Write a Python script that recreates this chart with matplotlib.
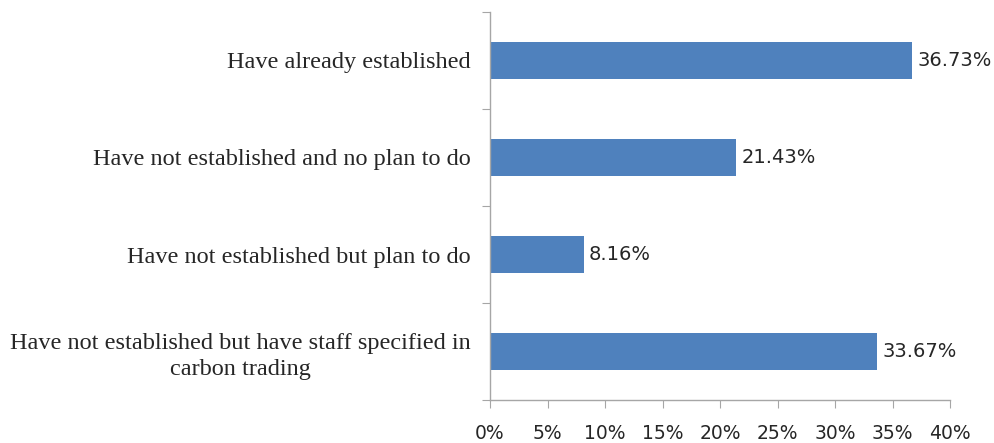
import matplotlib.pyplot as plt
import matplotlib.ticker as mticker
import numpy as np

# survey responses, listed top to bottom
categories = [
    "Have already established",
    "Have not established and no plan to do",
    "Have not established but plan to do",
    "Have not established but have staff specified in\ncarbon trading",
]
shares = [36.73, 21.43, 8.16, 33.67]
x_ticks = [0, 5, 10, 15, 20, 25, 30, 35, 40]

C_BAR = "#4f81bd"
C_AXIS = "#a6a6a6"
C_TEXT = "#262626"

fig = plt.figure(figsize=(9.95, 4.43), dpi=100)
ax = fig.add_axes([0.4925, 0.097, 0.4623, 0.876])

y = np.arange(len(categories))
ax.barh(y, shares, height=0.39, color=C_BAR, zorder=2)
ax.set_ylim(len(categories) - 0.5, -0.5)
ax.set_xlim(0, 40)

for yi, v in zip(y, shares):
    ax.text(v + 0.45, yi, f"{v:.2f}%", va="center", ha="left",
            fontsize=14, color=C_TEXT, family="DejaVu Sans")

# x axis: percentage ticks
ax.set_xticks(x_ticks)
ax.xaxis.set_major_formatter(mticker.FuncFormatter(lambda v, _: f"{v:g}%"))
ax.tick_params(axis="x", direction="out", length=6, color=C_AXIS,
               labelsize=13.5, labelcolor=C_TEXT, pad=11)

# y axis: tick marks sit between categories, labels at the bar centres
ax.set_yticks(np.arange(len(categories) + 1) - 0.5)
ax.set_yticklabels([])
ax.set_yticks(y, minor=True)
ax.set_yticklabels(categories, minor=True)
ax.tick_params(axis="y", which="major", direction="out", length=6, color=C_AXIS)
ax.tick_params(axis="y", which="minor", length=0, pad=14)
for lab in ax.get_yticklabels(minor=True):
    lab.set_fontfamily("Liberation Serif")
    lab.set_fontsize(17.5)
    lab.set_color(C_TEXT)
    lab.set_multialignment("center")
    lab.set_linespacing(1.3)

for side in ("top", "right"):
    ax.spines[side].set_visible(False)
for side in ("left", "bottom"):
    ax.spines[side].set_color(C_AXIS)
    ax.spines[side].set_linewidth(1.0)

fig.savefig("out.png", dpi=100)
